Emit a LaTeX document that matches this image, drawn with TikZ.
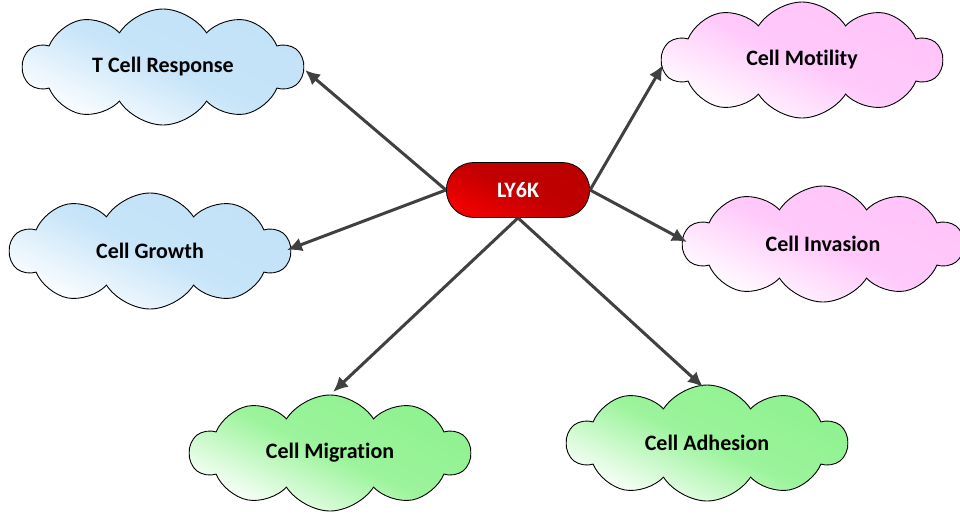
\documentclass[tikz,border=0pt]{standalone}
\usepackage{fontspec}
\setmainfont{Carlito}[Ligatures=NoCommon]
\usetikzlibrary{shapes.symbols,shapes.misc,arrows.meta}
\definecolor{cblue}{HTML}{C2E2F8}
\definecolor{cpink}{HTML}{FFC4FA}
\definecolor{cgreen}{HTML}{8EF28E}
\definecolor{redA}{HTML}{BA0000}
\definecolor{redB}{HTML}{F20000}
\definecolor{arrowgray}{HTML}{404040}
\tikzset{
  cloudbox/.style={cloud, cloud puffs=10, cloud puff arc=115, cloud ignores aspect,
    draw=black, line width=0.9pt, minimum width=280pt, minimum height=116pt,
    font=\bfseries\fontsize{22}{26}\selectfont, text=black},
  bluecloud/.style={cloudbox, top color=cblue, bottom color=white, middle color=cblue!92!white, shading angle=-25},
  pinkcloud/.style={cloudbox, top color=cpink, bottom color=white, middle color=cpink!92!white, shading angle=-25},
  greencloud/.style={cloudbox, top color=cgreen, bottom color=white, middle color=cgreen!88!white, shading angle=-25},
  hub/.style={rounded rectangle, draw=black, line width=0.8pt, minimum width=150pt,
    minimum height=55pt, top color=redA, bottom color=redB, middle color=redA!85!redB, shading angle=-25,
    text=white, font=\bfseries\fontsize{22}{26}\selectfont},
  link/.style={draw=arrowgray, line width=3pt, -{Latex[length=15pt,width=14pt]}}
}
\begin{document}
\begin{tikzpicture}[x=1pt,y=-1pt]
\useasboundingbox (0,0) rectangle (960,515);
\node[bluecloud] (tcell) at (163,67) {T Cell Response};
\node[bluecloud] (growth) at (150,251) {Cell Growth};
\node[pinkcloud] (motil) at (802,60) {Cell Motility};
\node[pinkcloud] (invas) at (823,244) {Cell Invasion};
\node[greencloud] (migr) at (330,453) {Cell Migration};
\node[greencloud] (adhes) at (707,443) {Cell Adhesion};
\node[hub] (ly) at (518,190) {LY6K};
\coordinate (tT) at (305,70);
\coordinate (tG) at (287,250);
\coordinate (tM) at (663,65);
\coordinate (tI) at (687,242);
\coordinate (tMi) at (333,392);
\coordinate (tA) at (703,387);
\draw[link] (ly.west) -- (tT);
\draw[link] (ly.west) -- (tG);
\draw[link] (ly.east) -- (tM);
\draw[link] (ly.east) -- (tI);
\draw[link] (ly.south) -- (tMi);
\draw[link] (ly.south) -- (tA);
\end{tikzpicture}
\end{document}
